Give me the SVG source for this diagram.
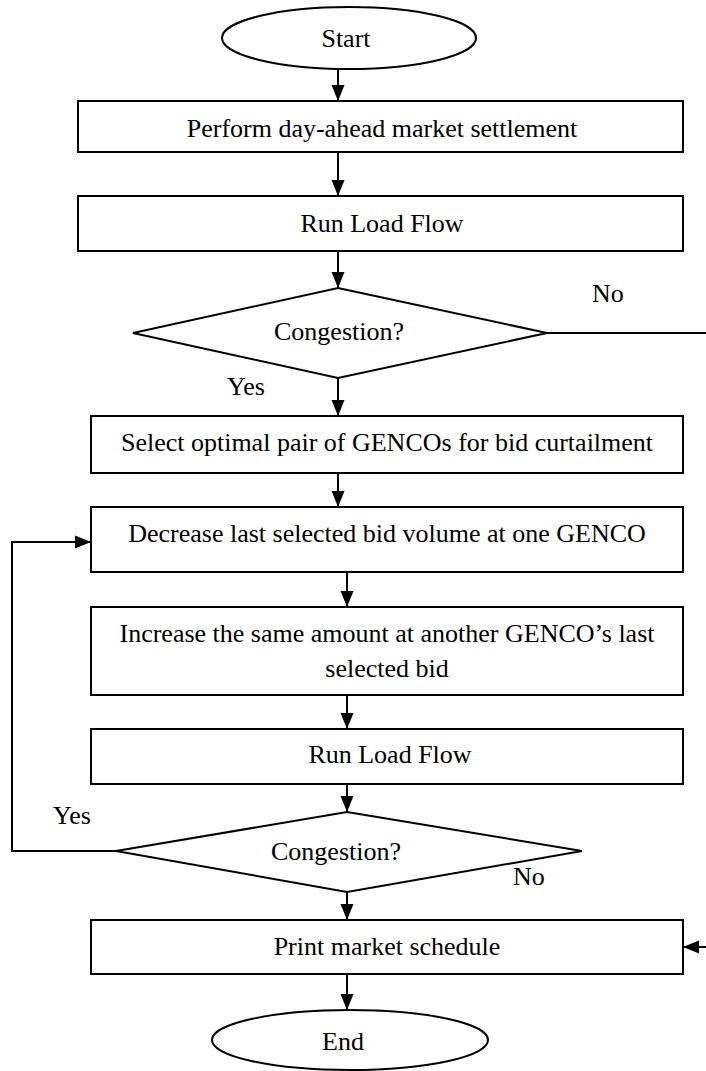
<svg xmlns="http://www.w3.org/2000/svg" width="706" height="1071" viewBox="0 0 706 1071">
<defs>
<marker id="ah" markerUnits="userSpaceOnUse" markerWidth="16" markerHeight="14" refX="16" refY="7" orient="auto">
<path d="M0,0.5 L16,7 L0,13.5 z" fill="#000"/>
</marker>
<style>
.n{fill:#fff;stroke:#000;stroke-width:2}
.t{font-family:"Liberation Serif","Times New Roman",serif;font-size:26px;fill:#000;text-anchor:middle}
.l{font-family:"Liberation Serif","Times New Roman",serif;font-size:26px;fill:#000}
.c{fill:none;stroke:#000;stroke-width:2}
.a{fill:none;stroke:#000;stroke-width:2;marker-end:url(#ah)}
</style>
</defs>
<rect width="706" height="1071" fill="#fff"/>
<g id="connectors">
<line class="a" x1="338" y1="69" x2="338" y2="101"/>
<line class="a" x1="338" y1="152" x2="338" y2="196"/>
<line class="a" x1="338" y1="251" x2="338" y2="288"/>
<line class="a" x1="338" y1="378" x2="338" y2="416"/>
<line class="a" x1="338" y1="473" x2="338" y2="507"/>
<line class="a" x1="347" y1="572" x2="347" y2="607"/>
<line class="a" x1="347" y1="695" x2="347" y2="729"/>
<line class="a" x1="347" y1="784" x2="347" y2="812"/>
<line class="a" x1="347" y1="892" x2="347" y2="920"/>
<line class="a" x1="347" y1="974" x2="347" y2="1010"/>
<line class="c" x1="547" y1="333" x2="706" y2="333"/>
<line class="a" x1="706" y1="947" x2="683" y2="947"/>
<polyline class="a" points="116,851 12,851 12,542 91,542"/>
<text class="l" x="592" y="302">No</text>
<text class="l" x="227" y="395">Yes</text>
<text class="l" x="53" y="824">Yes</text>
<text class="l" x="513" y="885">No</text>
</g>
<g id="start">
<ellipse class="n" cx="349" cy="38" rx="127" ry="31"/>
<text class="t" x="346" y="47">Start</text>
</g>
<g id="settle">
<rect class="n" x="78" y="101" width="605" height="51"/>
<text class="t" x="382" y="137">Perform day-ahead market settlement</text>
</g>
<g id="loadflow1">
<rect class="n" x="78" y="196" width="605" height="55"/>
<text class="t" x="382" y="232">Run Load Flow</text>
</g>
<g id="congestion1">
<polygon class="n" points="338,288 547,333 338,378 133,333"/>
<text class="t" x="339" y="340">Congestion?</text>
</g>
<g id="select">
<rect class="n" x="91" y="416" width="592" height="57"/>
<text class="t" x="387" y="451">Select optimal pair of GENCOs for bid curtailment</text>
</g>
<g id="decrease">
<rect class="n" x="91" y="507" width="592" height="65"/>
<text class="t" x="387" y="542">Decrease last selected bid volume at one GENCO</text>
</g>
<g id="increase">
<rect class="n" x="91" y="607" width="592" height="88"/>
<text class="t" x="387" y="642">Increase the same amount at another GENCO’s last</text>
<text class="t" x="387" y="677">selected bid</text>
</g>
<g id="loadflow2">
<rect class="n" x="91" y="729" width="592" height="55"/>
<text class="t" x="390" y="763">Run Load Flow</text>
</g>
<g id="congestion2">
<polygon class="n" points="347,812 582,851 347,892 116,851"/>
<text class="t" x="336" y="860">Congestion?</text>
</g>
<g id="print">
<rect class="n" x="91" y="920" width="592" height="54"/>
<text class="t" x="387" y="955">Print market schedule</text>
</g>
<g id="end">
<ellipse class="n" cx="350" cy="1040" rx="138" ry="30"/>
<text class="t" x="343" y="1050">End</text>
</g>
</svg>
